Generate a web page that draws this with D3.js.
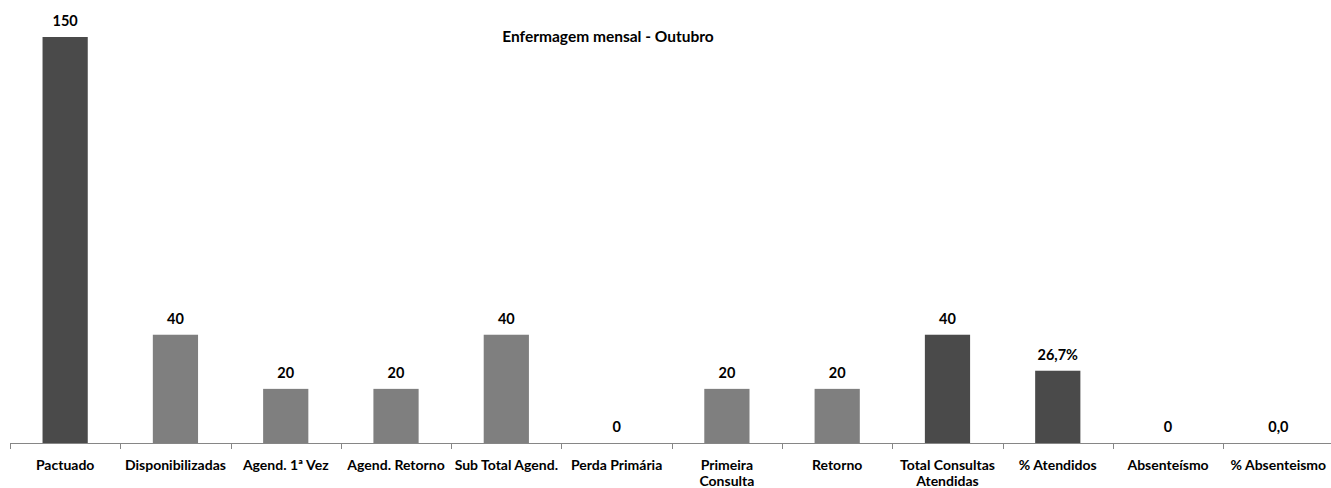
<!DOCTYPE html>
<html><head><meta charset="utf-8">
<script src="https://cdn.jsdelivr.net/npm/d3@7"></script>
<style>
html,body{margin:0;padding:0;background:#fff;}
svg text{font-family:Lato,"Open Sans",sans-serif;font-weight:bold;fill:#000;}
</style></head>
<body><svg id="c" width="1331" height="488"></svg>
<script>
const categories = ["Pactuado","Disponibilizadas","Agend. 1ª Vez","Agend. Retorno","Sub Total Agend.","Perda Primária","Primeira Consulta","Retorno","Total Consultas Atendidas","% Atendidos","Absenteísmo","% Absenteismo"];
const categoryLines = [["Pactuado"],["Disponibilizadas"],["Agend. 1ª Vez"],["Agend. Retorno"],["Sub Total Agend."],["Perda Primária"],["Primeira","Consulta"],["Retorno"],["Total Consultas","Atendidas"],["% Atendidos"],["Absenteísmo"],["% Absenteismo"]];
const values = [150, 40, 20, 20, 40, 0, 20, 20, 40, 26.7, 0, 0];
const valueLabels = ["150","40","20","20","40","0","20","20","40","26,7%","0","0,0"];
const groups = ["dark","light","light","light","light","light","light","light","dark","dark","dark","dark"];
const title = "Enfermagem mensal - Outubro";

const W = 1331, H = 488;
const svg = d3.select("#c");
const x = d3.scaleBand().domain(categories).range([10, 1333.5]).paddingInner(0.59).paddingOuter(0.295);
const xt = d3.scaleBand().domain(categories).range([10, 1333.5]);
const y = d3.scaleLinear().domain([0, 150]).range([443, 37]);
const color = d3.scaleOrdinal().domain(["dark","light"]).range(["#4a4a4a","#7f7f7f"]);

svg.append("text").attr("x", 608).attr("y", 42).attr("text-anchor","middle")
  .style("font-size","15.5px").text(title);

svg.selectAll("rect.bar").data(categories).enter().append("rect")
  .attr("x", d => x(d)).attr("width", x.bandwidth())
  .attr("y", (d,i) => y(values[i])).attr("height", (d,i) => y(0) - y(values[i]))
  .attr("fill", (d,i) => color(groups[i]));

svg.selectAll("text.val").data(categories).enter().append("text")
  .attr("x", d => x(d) + x.bandwidth()/2)
  .attr("y", (d,i) => y(values[i]) - 11)
  .attr("text-anchor","middle").style("font-size","14.5px")
  .text((d,i) => valueLabels[i]);

// axis
svg.append("line").attr("x1",10).attr("x2",W).attr("y1",443.5).attr("y2",443.5)
  .attr("stroke","#868686").attr("stroke-width",1);
const tickPos = categories.map(d => xt(d));
svg.selectAll("line.tick").data(tickPos).enter().append("line")
  .attr("x1", d => Math.round(d)+0.5).attr("x2", d => Math.round(d)+0.5)
  .attr("y1", 443).attr("y2", 449).attr("stroke","#868686");

const lab = svg.selectAll("text.cat").data(categories).enter().append("text")
  .attr("text-anchor","middle").style("font-size","14px")
  .attr("y", 470);
lab.each(function(d,i){
  const t = d3.select(this);
  categoryLines[i].forEach((ln,k) => {
    t.append("tspan").attr("x", xt(d) + xt.bandwidth()/2).attr("dy", k===0?0:16).text(ln);
  });
  const bb = this.getBBox();
  if (bb.x + bb.width > W - 3) {
    const shift = bb.x + bb.width - (W - 3);
    t.selectAll("tspan").attr("x", xt(d) + xt.bandwidth()/2 - shift);
  }
});
</script></body></html>
